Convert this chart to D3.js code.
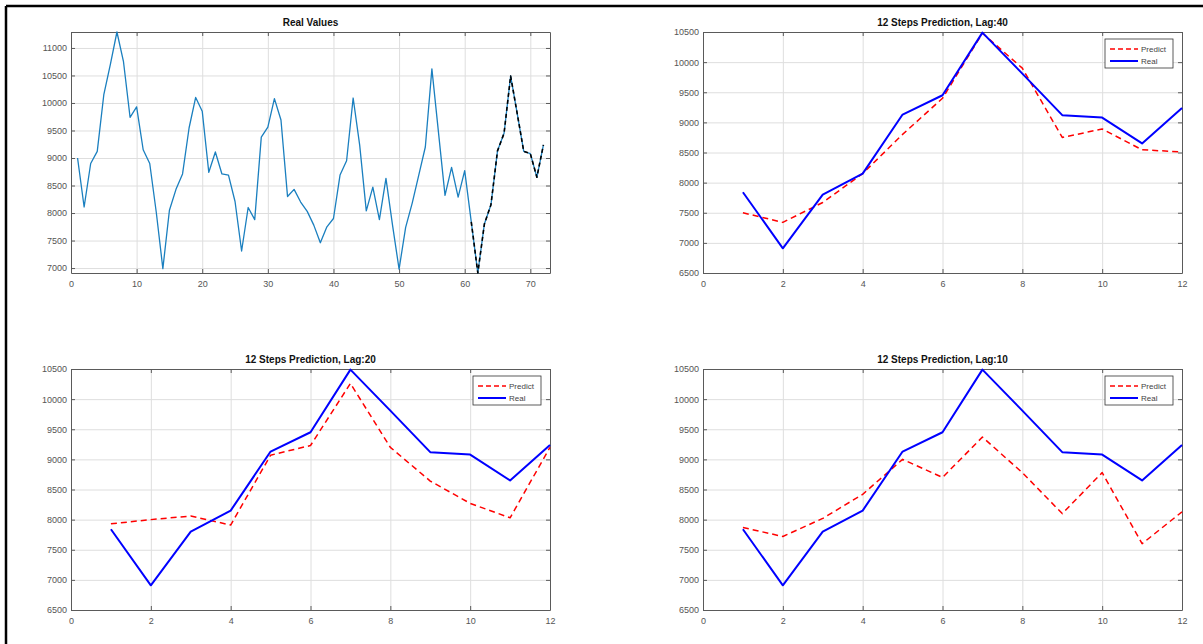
<!DOCTYPE html>
<html>
<head>
<meta charset="utf-8">
<script src="https://cdn.jsdelivr.net/npm/d3@7"></script>
<style>
  body { margin: 0; background: #fff; }
  svg { display: block; font-family: "Liberation Sans", Arial, sans-serif; }
</style>
</head>
<body>
<svg id="chart" width="1203" height="644"></svg>
<script>
// series
const realValues = [
  9000, 8110, 8900, 9120, 10150, 10700, 11290, 10750, 9740, 9930,
  9150, 8900, 8010, 6990, 8050, 8430, 8710, 9550, 10100, 9850,
  8740, 9110, 8710, 8690, 8210, 7310, 8100, 7880, 9380, 9560,
  10080, 9690, 8300, 8430, 8200, 8030, 7780, 7460, 7750, 7900,
  8690, 8950, 10090, 9230, 8040, 8470, 7880, 8630, 7780, 6980,
  7740, 8180, 8690, 9200, 10620, 9470, 8320, 8830, 8290, 8770,
  7840, 6910, 7800, 8150, 9130, 9450, 10490, 9810, 9120, 9080,
  8650, 9240
];
const stepReal = [7840, 6910, 7800, 8150, 9130, 9450, 10490, 9810, 9120, 9080, 8650, 9240];
const predLag40 = [7500, 7340, 7670, 8150, 8800, 9400, 10480, 9900, 8750, 8890, 8545, 8510];
const predLag20 = [7930, 8000, 8060, 7910, 9070, 9230, 10260, 9200, 8640, 8270, 8030, 9200];
const predLag10 = [7870, 7720, 8020, 8420, 9000, 8700, 9370, 8780, 8100, 8780, 7600, 8130];

const realTicksX = [0, 10, 20, 30, 40, 50, 60, 70];
const realTicksY = [7000, 7500, 8000, 8500, 9000, 9500, 10000, 10500, 11000];
const stepTicksX = [0, 2, 4, 6, 8, 10, 12];
const stepTicksY = [6500, 7000, 7500, 8000, 8500, 9000, 9500, 10000, 10500];

const svg = d3.select("#chart");

// outer frame (top and left edges only)
svg.append("line").attr("x1", 6).attr("y1", 6).attr("x2", 1203).attr("y2", 6)
  .attr("stroke", "#000").attr("stroke-width", 2.5);
svg.append("line").attr("x1", 6).attr("y1", 6).attr("x2", 6).attr("y2", 644)
  .attr("stroke", "#000").attr("stroke-width", 2.5);

const fmt = d3.format("d");

function panel(left, top, title, xDomain, yDomain, xTicks, yTicks) {
  const w = 479, h = 241;
  const g = svg.append("g").attr("transform", `translate(${left},${top})`);
  const x = d3.scaleLinear().domain(xDomain).range([0, w]);
  const y = d3.scaleLinear().domain(yDomain).range([h, 0]);

  // grid
  g.append("g").attr("transform", `translate(0,${h})`)
    .call(d3.axisBottom(x).tickValues(xTicks).tickSize(-h).tickFormat(""))
    .call(a => a.select(".domain").remove())
    .call(a => a.selectAll("line").attr("stroke", "#dedede"));
  g.append("g")
    .call(d3.axisLeft(y).tickValues(yTicks).tickSize(-w).tickFormat(""))
    .call(a => a.select(".domain").remove())
    .call(a => a.selectAll("line").attr("stroke", "#dedede"));

  const styleAxis = a => {
    a.select(".domain").attr("stroke", "#5a5a5a");
    a.selectAll("line").attr("stroke", "#5a5a5a");
    a.selectAll("text").attr("fill", "#555").style("font-size", "9px");
  };
  g.append("g").attr("transform", `translate(0,${h})`)
    .call(d3.axisBottom(x).tickValues(xTicks).tickFormat(fmt).tickSizeInner(-4).tickSizeOuter(0).tickPadding(8))
    .call(styleAxis);
  g.append("g")
    .call(d3.axisLeft(y).tickValues(yTicks).tickFormat(fmt).tickSizeInner(-4).tickSizeOuter(0).tickPadding(4))
    .call(styleAxis);
  g.append("g")
    .call(d3.axisTop(x).tickValues(xTicks).tickSizeInner(-4).tickSizeOuter(0).tickFormat(""))
    .call(styleAxis);
  g.append("g").attr("transform", `translate(${w},0)`)
    .call(d3.axisRight(y).tickValues(yTicks).tickSizeInner(-4).tickSizeOuter(0).tickFormat(""))
    .call(styleAxis);

  g.append("text")
    .attr("x", w / 2).attr("y", -6)
    .attr("text-anchor", "middle")
    .style("font-size", "10px").style("font-weight", "bold")
    .attr("fill", "#111")
    .text(title);

  return { g, x, y, w, h };
}

function drawLine(p, values, xStart, color, width, dash) {
  const line = d3.line().x((d, i) => p.x(xStart + i)).y(d => p.y(d));
  p.g.append("path").datum(values)
    .attr("fill", "none")
    .attr("stroke", color)
    .attr("stroke-width", width)
    .attr("stroke-linejoin", "round")
    .attr("stroke-dasharray", dash || null)
    .attr("d", line);
}

function legend(p) {
  const lx = p.w - 77, ly = 7;
  const lg = p.g.append("g").attr("transform", `translate(${lx},${ly})`);
  lg.append("rect").attr("width", 68).attr("height", 29)
    .attr("fill", "#fff").attr("stroke", "#333").attr("stroke-width", 0.8);
  const items = [
    { name: "Predict", color: "#ff0000", width: 1.5, dash: "5,3" },
    { name: "Real", color: "#0000ff", width: 2, dash: null }
  ];
  items.forEach((d, i) => {
    const yy = 10 + i * 12;
    lg.append("line").attr("x1", 5).attr("x2", 33).attr("y1", yy).attr("y2", yy)
      .attr("stroke", d.color).attr("stroke-width", d.width)
      .attr("stroke-dasharray", d.dash);
    lg.append("text").attr("x", 36).attr("y", yy + 3)
      .style("font-size", "8px").attr("fill", "#444").text(d.name);
  });
}

// Real Values
const p0 = panel(71, 32, "Real Values", [0, 73], [6910, 11290], realTicksX, realTicksY);
drawLine(p0, realValues, 1, "#1a7fbf", 1.3);
drawLine(p0, realValues.slice(60), 61, "#000", 1.6, "4,3");

// prediction panels
const preds = [
  { left: 703, top: 32, title: "12 Steps Prediction, Lag:40", values: predLag40 },
  { left: 71, top: 369, title: "12 Steps Prediction, Lag:20", values: predLag20 },
  { left: 703, top: 369, title: "12 Steps Prediction, Lag:10", values: predLag10 }
];
preds.forEach(c => {
  const p = panel(c.left, c.top, c.title, [0, 12], [6500, 10500], stepTicksX, stepTicksY);
  drawLine(p, c.values, 1, "#ff0000", 1.5, "6,4");
  drawLine(p, stepReal, 1, "#0000ff", 2);
  legend(p);
});
</script>
</body>
</html>
